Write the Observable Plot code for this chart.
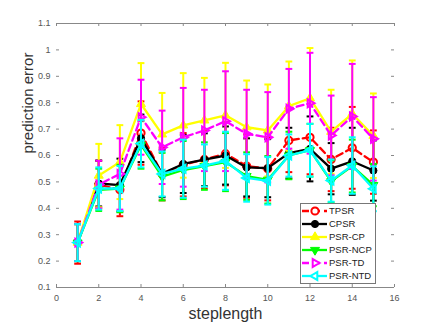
<!DOCTYPE html>
<html>
<head>
<meta charset="utf-8">
<script src="https://cdn.jsdelivr.net/npm/d3@7"></script>
<script src="https://cdn.jsdelivr.net/npm/@observablehq/plot@0.6"></script>
<style>
  html, body { margin: 0; padding: 0; background: #fff; }
  #chart { position: relative; width: 436px; height: 331px; }
</style>
</head>
<body>
<div id="chart"></div>
<script>
// ---- data ----
const steps = [1, 2, 3, 4, 5, 6, 7, 8, 9, 10, 11, 12, 13, 14, 15];

const seriesNames = ["TPSR", "CPSR", "PSR-CP", "PSR-NCP", "PSR-TD", "PSR-NTD"];

const tpsrMean = [0.27, 0.49, 0.47, 0.685, 0.53, 0.565, 0.585, 0.607, 0.56, 0.55, 0.657, 0.669, 0.585, 0.629, 0.575];
const tpsrErr  = [0.08, 0.09, 0.10, 0.12, 0.10, 0.12, 0.11, 0.12, 0.12, 0.12, 0.12, 0.14, 0.12, 0.155, 0.12];

const cpsrMean = [0.27, 0.494, 0.488, 0.665, 0.532, 0.568, 0.584, 0.60, 0.555, 0.552, 0.609, 0.625, 0.55, 0.578, 0.543];
const cpsrErr  = [0.07, 0.087, 0.10, 0.09, 0.09, 0.11, 0.10, 0.11, 0.11, 0.11, 0.096, 0.123, 0.097, 0.127, 0.114];

const cpMean = [0.27, 0.524, 0.575, 0.795, 0.68, 0.714, 0.733, 0.752, 0.707, 0.695, 0.787, 0.817, 0.69, 0.758, 0.675];
const cpErr  = [0.07, 0.12, 0.14, 0.155, 0.157, 0.198, 0.161, 0.199, 0.177, 0.174, 0.169, 0.19, 0.159, 0.202, 0.16];

const ncpMean = [0.27, 0.47, 0.475, 0.64, 0.52, 0.545, 0.56, 0.575, 0.522, 0.508, 0.6, 0.62, 0.502, 0.56, 0.488];
const ncpErr  = [0.07, 0.08, 0.09, 0.09, 0.09, 0.11, 0.09, 0.11, 0.09, 0.09, 0.09, 0.10, 0.08, 0.10, 0.08];

const tdMean = [0.27, 0.49, 0.53, 0.745, 0.631, 0.669, 0.695, 0.73, 0.682, 0.669, 0.777, 0.798, 0.676, 0.748, 0.663];
const tdErr  = [0.07, 0.09, 0.135, 0.142, 0.139, 0.187, 0.154, 0.189, 0.167, 0.171, 0.151, 0.191, 0.151, 0.199, 0.158];

const ntdMean = [0.27, 0.475, 0.475, 0.645, 0.53, 0.55, 0.562, 0.58, 0.515, 0.504, 0.6, 0.62, 0.505, 0.562, 0.474];
const ntdErr  = [0.07, 0.08, 0.085, 0.09, 0.085, 0.11, 0.08, 0.11, 0.09, 0.09, 0.08, 0.10, 0.08, 0.107, 0.085];

const xDomain = [0, 16];
const yDomain = [0.1, 1.1];
const xTicks = [0, 2, 4, 6, 8, 10, 12, 14, 16];
const yTicks = [0.1, 0.2, 0.3, 0.4, 0.5, 0.6, 0.7, 0.8, 0.9, 1.0, 1.1];
const xLabel = "steplength";
const yLabel = "prediction error";

// ---- layout / style ----
const W = 436, H = 331, ML = 56, MR = 42, MT = 23, MB = 44;
const innerW = W - ML - MR, innerH = H - MT - MB;
const tickLen = 3;
const axisGray = "#888";
const font = "'Liberation Sans', Arial, Helvetica, sans-serif";

// custom symbols
function tri(angle) {
  return {
    draw(ctx, size) {
      const r = Math.sqrt(size / Math.PI);
      for (let i = 0; i < 3; i++) {
        const a = angle + i * 2 * Math.PI / 3;
        const x = r * Math.cos(a), y = r * Math.sin(a);
        if (i) ctx.lineTo(x, y); else ctx.moveTo(x, y);
      }
      ctx.closePath();
    }
  };
}
const triUp = tri(-Math.PI / 2), triDown = tri(Math.PI / 2), triLeft = tri(Math.PI), triRight = tri(0);
const hline = {
  draw(ctx, size) {
    const r = Math.sqrt(size / Math.PI);
    ctx.moveTo(-r, 0); ctx.lineTo(r, 0);
  }
};

const styles = [
  {color: "#ff0000", dash: "7,4", symbol: "circle", filled: false, r: 3.6},
  {color: "#000000", dash: null, symbol: "circle", filled: true, r: 3.6},
  {color: "#ffff00", dash: null, symbol: triUp, filled: true, r: 5.2},
  {color: "#00ff00", dash: null, symbol: triDown, filled: true, r: 5.2},
  {color: "#ff00ff", dash: "7,4", symbol: triRight, filled: false, r: 4.6},
  {color: "#00ffff", dash: null, symbol: triLeft, filled: false, r: 4.6}
];

const means = [tpsrMean, cpsrMean, cpMean, ncpMean, tdMean, ntdMean];
const errs = [tpsrErr, cpsrErr, cpErr, ncpErr, tdErr, ntdErr];

const seriesMarks = [];
seriesNames.forEach((name, k) => {
  const st = styles[k];
  const rows = steps.map((s, i) => ({step: s, m: means[k][i], e: errs[k][i]}));
  seriesMarks.push(
    Plot.ruleX(rows, {x: "step", y1: d => d.m - d.e, y2: d => d.m + d.e, stroke: st.color, strokeWidth: 2}),
    Plot.dot(rows, {x: "step", y: d => d.m + d.e, symbol: hline, r: 3.4, stroke: st.color, strokeWidth: 2, fill: "none"}),
    Plot.dot(rows, {x: "step", y: d => d.m - d.e, symbol: hline, r: 3.4, stroke: st.color, strokeWidth: 2, fill: "none"}),
    Plot.line(rows, {x: "step", y: "m", stroke: st.color, strokeWidth: 2.3, strokeDasharray: st.dash, curve: "linear"}),
    Plot.dot(rows, {x: "step", y: "m", symbol: st.symbol, r: st.r, stroke: st.color, strokeWidth: st.filled ? 1 : 2, fill: st.filled ? st.color : "none"})
  );
});

const fmt = d => String(+d.toFixed(1));

const chart = Plot.plot({
  width: W, height: H,
  marginLeft: ML, marginRight: MR, marginTop: MT, marginBottom: MB,
  x: {domain: xDomain},
  y: {domain: yDomain},
  style: {fontFamily: font, background: "white", overflow: "visible"},
  marks: [
    // frame lines (top & bottom)
    Plot.ruleY(yDomain, {stroke: axisGray, strokeWidth: 1}),
    // inward ticks on all four sides
    Plot.tickX(xTicks, {x: d => d, stroke: axisGray, insetTop: innerH - tickLen}),
    Plot.tickX(xTicks, {x: d => d, stroke: axisGray, insetBottom: innerH - tickLen}),
    Plot.tickY(yTicks, {y: d => d, stroke: axisGray, insetRight: innerW - tickLen}),
    Plot.tickY(yTicks, {y: d => d, stroke: axisGray, insetLeft: innerW - tickLen}),
    // tick labels
    Plot.axisX(xTicks, {tickSize: 0, tickPadding: 7, fontSize: 9, color: "#555", tickFormat: fmt, label: null}),
    Plot.axisY(yTicks, {tickSize: 0, tickPadding: 6, fontSize: 9, color: "#555", tickFormat: fmt, label: null}),
    ...seriesMarks,
    // axis titles
    Plot.text([yLabel], {text: d => d, frameAnchor: "left", dx: -28, dy: -2, rotate: -90, fontSize: 15, fill: "#333"}),
    Plot.text([xLabel], {text: d => d, frameAnchor: "bottom", dy: 31, fontSize: 16, fill: "#333"})
  ]
});

document.getElementById("chart").appendChild(chart);

// ---- legend (inside the axes, lower right) ----
const svg = d3.select(chart);
const lg = svg.append("g").attr("font-family", font).attr("font-size", 9.5).attr("text-anchor", "start");
const lx = 300, ly = 203, lw = 75, lh = 80, rowH = 13, row0 = 211;
lg.append("rect").attr("x", lx + 0.5).attr("y", ly + 0.5).attr("width", lw).attr("height", lh)
  .attr("fill", "white").attr("stroke", "#777").attr("stroke-width", 1);
seriesNames.forEach((name, k) => {
  const st = styles[k];
  const y = row0 + k * rowH;
  lg.append("line").attr("x1", lx + 2).attr("x2", lx + 27).attr("y1", y).attr("y2", y)
    .attr("stroke", st.color).attr("stroke-width", 2.3)
    .attr("stroke-dasharray", st.dash);
  const type = typeof st.symbol === "string" ? d3.symbolCircle : st.symbol;
  lg.append("path").attr("d", d3.symbol(type, st.r * st.r * Math.PI)())
    .attr("transform", `translate(${lx + 15},${y})`)
    .attr("fill", st.filled ? st.color : "white").attr("stroke", st.color)
    .attr("stroke-width", st.filled ? 1 : 2);
  lg.append("text").attr("x", lx + 29).attr("y", y).attr("dy", "0.35em")
    .attr("text-anchor", "start").attr("fill", "#222").text(name);
});
</script>
</body>
</html>
